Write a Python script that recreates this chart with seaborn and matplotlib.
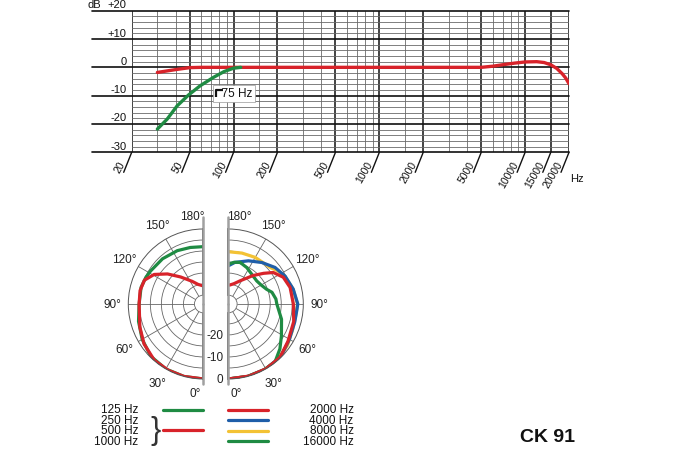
import numpy as np
import matplotlib
matplotlib.use("Agg")
import matplotlib.pyplot as plt
import matplotlib.transforms as mtransforms
import seaborn as sns

# --- frequency response (top chart) ---
green_freq = [30, 35, 41, 49, 59, 73, 86, 100, 112]
green_db = [-21.8, -18.3, -13.6, -9.8, -6.5, -3.5, -1.5, -0.3, 0.0]
red_freq = [30, 40, 50, 60, 100, 1000, 5000, 6000, 7200, 8500, 10000,
            12000, 13500, 15000, 16500, 18000, 19000, 20000]
red_db = [-1.8, -0.8, -0.1, 0.0, 0.0, 0.0, 0.0, 0.4, 1.0, 1.5, 1.9,
          2.0, 1.7, 0.9, -0.4, -2.3, -3.8, -5.8]

freq_ticks = [20, 50, 100, 200, 500, 1000, 2000, 5000, 10000, 15000, 20000]
freq_tick_labels = ["20", "50", "100", "200", "500", "1000", "2000",
                    "5000", "10000", "15000", "20000"]
freq_minor = [30, 40, 60, 70, 80, 90, 150, 300, 400, 600, 700, 800, 900,
              1500, 3000, 4000, 6000, 7000, 8000, 9000]
db_major = [-30, -20, -10, 0, 10, 20]
db_major_labels = ["-30", "-20", "-10", "0", "+10", "+20"]
db_minor = [d for d in range(-28, 20, 2) if d % 10]

# --- polar patterns (angle in degrees from 0 = front, level in dB) ---
mid_theta = [0, 15, 28, 41, 56, 70, 90, 102, 112, 121, 130, 140, 154, 165, 180]
mid_db = [0, 0, 0, -0.2, -1.6, -3.4, -4.9, -4.7, -5.2, -8.0, -12.8, -18.0, -22.6, -24.8, -25.8]

low_theta = [0, 15, 30, 45, 60, 75, 90, 105, 115, 122, 138, 154, 167, 180]
low_db = [0, 0, 0, -0.4, -2.0, -3.6, -4.9, -4.8, -5.3, -5.8, -6.4, -7.1, -7.7, -8.0]

f2k_theta = [0, 16, 30, 44, 58, 75, 90, 105, 116, 125, 131, 139, 153, 165, 176]
f2k_db = [0, 0, 0, -0.3, -2.1, -3.3, -4.5, -5.0, -6.3, -9.1, -12.8, -16.9, -22.2, -24.5, -25.4]

f4k_theta = [0, 15, 30, 45, 60, 75, 85, 90, 103, 116, 128, 141, 155, 171, 180]
f4k_db = [0, 0, 0, -0.3, -2.0, -2.8, -2.8, -2.5, -3.8, -5.3, -7.1, -9.8, -12.4, -14.9, -16.7]

f8k_theta = [0, 15, 30, 42, 55, 68, 80, 90, 103, 116, 124, 130, 138, 150, 165, 180]
f8k_db = [0, 0, 0, -0.3, -1.3, -2.6, -3.0, -2.6, -3.9, -5.4, -7.0, -8.6, -9.4, -9.6, -10.1, -10.3]

f16k_theta = [0, 15, 28, 39, 49, 59, 74, 90, 96, 105, 111, 120, 129, 142, 153, 164, 172, 180]
f16k_db = [0, 0, 0, -0.3, -3.0, -5.9, -8.9, -12.0, -12.3, -13.5, -15.4, -16.8, -17.4, -16.8, -15.5, -14.4, -14.9, -15.9]

ring_db = [-25, -20, -15, -10, -5]
spoke_deg = [0, 30, 60, 90, 120, 150, 180]
spoke_labels = ["0°", "30°", "60°", "90°", "120°", "150°", "180°"]
level_labels_db = [0, -10, -20]

legend_left = ["125 Hz", "250 Hz", "500 Hz", "1000 Hz"]
legend_right = ["2000 Hz", "4000 Hz", "8000 Hz", "16000 Hz"]

RED = "#d8232a"
GREEN = "#1f8b43"
BLUE = "#1f5ea8"
YELLOW = "#f3c234"

sns.set_theme(style="white")
plt.rcParams["font.family"] = ["Liberation Sans", "DejaVu Sans"]

W, H = 678, 452
fig = plt.figure(figsize=(W / 100, H / 100), dpi=100)


def box(x0, y0, x1, y1):
    return [x0 / W, 1 - y1 / H, (x1 - x0) / W, (y1 - y0) / H]


# ---------------- top: frequency response ----------------
ax = fig.add_axes(box(131.7, 11.7, 569, 153.3))
ax.set_xscale("log")
for s in ax.spines.values():
    s.set_visible(False)
ax.tick_params(which="both", bottom=False, left=False,
               labelbottom=False, labelleft=False)

for f in freq_minor:
    ax.axvline(f, color="#6a6a6a", lw=0.6, zorder=1)
for f in freq_ticks:
    ax.axvline(f, color="#111111", lw=1.1, zorder=1)
for d in db_minor:
    ax.axhline(d, color="#6a6a6a", lw=0.6, zorder=1)
for d in db_major:
    ax.axhline(d, xmin=-0.091, xmax=1, color="#111111", lw=1.2,
               clip_on=False, zorder=1)

sns.lineplot(x=red_freq, y=red_db, ax=ax, color=RED, lw=2.4, zorder=3)
sns.lineplot(x=green_freq, y=green_db, ax=ax, color=GREEN, lw=2.4, zorder=3)
ax.set_xlim(20, 20000)
ax.set_ylim(-30, 20)
ax.set_xlabel("")
ax.set_ylabel("")

ylab_tr = mtransforms.offset_copy(
    mtransforms.blended_transform_factory(ax.transAxes, ax.transData),
    fig=fig, x=0, y=1.5, units="dots")
for d, lab in zip(db_major, db_major_labels):
    ax.text(-0.012, d, lab, transform=ylab_tr, ha="right", va="bottom",
            fontsize=8, color="#111")
ax.text(-0.102, 20, "dB", transform=ylab_tr, ha="left", va="bottom",
        fontsize=8, color="#111")

tick_tr = mtransforms.blended_transform_factory(ax.transData, ax.transAxes)
for f, lab in zip(freq_ticks, freq_tick_labels):
    ax.annotate("", xy=(f, 0), xycoords=tick_tr, xytext=(-8, -20),
                textcoords="offset pixels",
                arrowprops=dict(arrowstyle="-", color="#111", lw=1.0,
                                shrinkA=0, shrinkB=0))
    ax.annotate(lab, xy=(f, 0), xycoords=tick_tr, xytext=(-9, -9),
                textcoords="offset pixels", rotation=60, ha="right",
                va="center", rotation_mode="anchor", fontsize=7.5,
                color="#111")
ax.annotate("Hz", xy=(1, 0), xycoords="axes fraction", xytext=(1, -26),
            textcoords="offset pixels", ha="left", va="center", fontsize=8,
            color="#111")

# 75 Hz filter note
ax.text(74.5, -9.2, "  75 Hz", ha="left", va="center", fontsize=8.5,
        color="#111", zorder=4,
        bbox=dict(boxstyle="square,pad=0.2", fc="white", ec="#999", lw=0.5))
ax.plot([75.5, 75.5, 84], [-10.4, -7.9, -7.9], color="#111", lw=1.6,
        zorder=5, solid_capstyle="butt")


# ---------------- bottom: polar patterns ----------------
def half_polar(rect, direction):
    pax = fig.add_axes(rect, projection="polar")
    pax.set_facecolor("none")
    pax.set_theta_zero_location("S")
    pax.set_theta_direction(direction)
    pax.set_thetamin(0)
    pax.set_thetamax(180)
    return pax


def style_half(pax):
    pax.set_ylim(-30, 0)
    pax.set_rorigin(-34)
    pax.set_rgrids(ring_db, labels=[""] * len(ring_db))
    pax.set_thetagrids(spoke_deg, labels=[""] * len(spoke_deg))
    pax.grid(True, color="#666666", lw=0.6)
    pax.spines["polar"].set(color="#555555", lw=0.7)
    pax.spines["inner"].set(color="#666666", lw=0.6)
    pax.spines["start"].set_visible(False)
    pax.spines["end"].set_visible(False)
    pax.set_xlabel("")
    pax.set_ylabel("")
    # centre divider line, a little longer than the circle
    pax.plot([0, 0], [-34, 2.3], color="#a0a0a0", lw=1.8, clip_on=False, zorder=6)
    pax.plot([np.pi, np.pi], [-34, 5.4], color="#a0a0a0", lw=1.8,
             clip_on=False, zorder=6)
    label_pos = [5, 30, 60, 90, 120, 150, 173]
    for pos, lab in zip(label_pos, spoke_labels):
        r = 6.4 if pos in (5, 173) else 7.2
        pax.text(np.deg2rad(pos), r, lab, ha="center", va="center",
                 fontsize=8.5, color="#222", clip_on=False)


# square boxes: the half circle is centred inside each one
cy, R = 305, 75
cx_left, cx_right = 203.3, 228.3
pl = half_polar(box(cx_left - 1.5 * R, cy - R, cx_left + 0.5 * R, cy + R), -1)
pr = half_polar(box(cx_right - 0.5 * R, cy - R, cx_right + 1.5 * R, cy + R), 1)

sns.lineplot(x=np.deg2rad(low_theta), y=low_db, ax=pl, sort=False,
             estimator=None, color=GREEN, lw=2.3)
sns.lineplot(x=np.deg2rad(mid_theta), y=mid_db, ax=pl, sort=False,
             estimator=None, color=RED, lw=2.3)

sns.lineplot(x=np.deg2rad(f8k_theta), y=f8k_db, ax=pr, sort=False,
             estimator=None, color=YELLOW, lw=2.3)
sns.lineplot(x=np.deg2rad(f4k_theta), y=f4k_db, ax=pr, sort=False,
             estimator=None, color=BLUE, lw=2.3)
sns.lineplot(x=np.deg2rad(f16k_theta), y=f16k_db, ax=pr, sort=False,
             estimator=None, color=GREEN, lw=2.3)
sns.lineplot(x=np.deg2rad(f2k_theta), y=f2k_db, ax=pr, sort=False,
             estimator=None, color=RED, lw=2.3)

style_half(pl)
style_half(pr)

lvl_tr = mtransforms.offset_copy(pr.transData, fig=fig, x=-5, y=0, units="dots")
for d in level_labels_db:
    pr.text(0, d, str(d), transform=lvl_tr, ha="right", va="center",
            fontsize=8.5, color="#222")

# ---------------- legend and title (pixel overlay) ----------------
ov = fig.add_axes([0, 0, 1, 1])
ov.set_xlim(0, W)
ov.set_ylim(H, 0)
ov.axis("off")

rows_y = [410.5, 421, 431.5, 442]
for y, lab in zip(rows_y, legend_left):
    ov.text(138.5, y, lab, ha="right", va="center", fontsize=8.5, color="#111")
for y, lab in zip(rows_y, legend_right):
    ov.text(353.5, y, lab, ha="right", va="center", fontsize=8.5, color="#111")

ov.plot([163, 203], [rows_y[0], rows_y[0]], color=GREEN, lw=2.3)
ov.plot([163, 203], [431, 431], color=RED, lw=2.3)
for y, c in zip(rows_y, [RED, BLUE, YELLOW, GREEN]):
    ov.plot([228, 268], [y, y], color=c, lw=2.3)
ov.text(150, 431.5, "}", ha="left", va="center", fontsize=22, color="#333")

ov.text(548, 438, "CK 91", ha="center", va="center", fontsize=14,
        fontweight="bold", color="#111")

fig.savefig("out.png", dpi=100)
